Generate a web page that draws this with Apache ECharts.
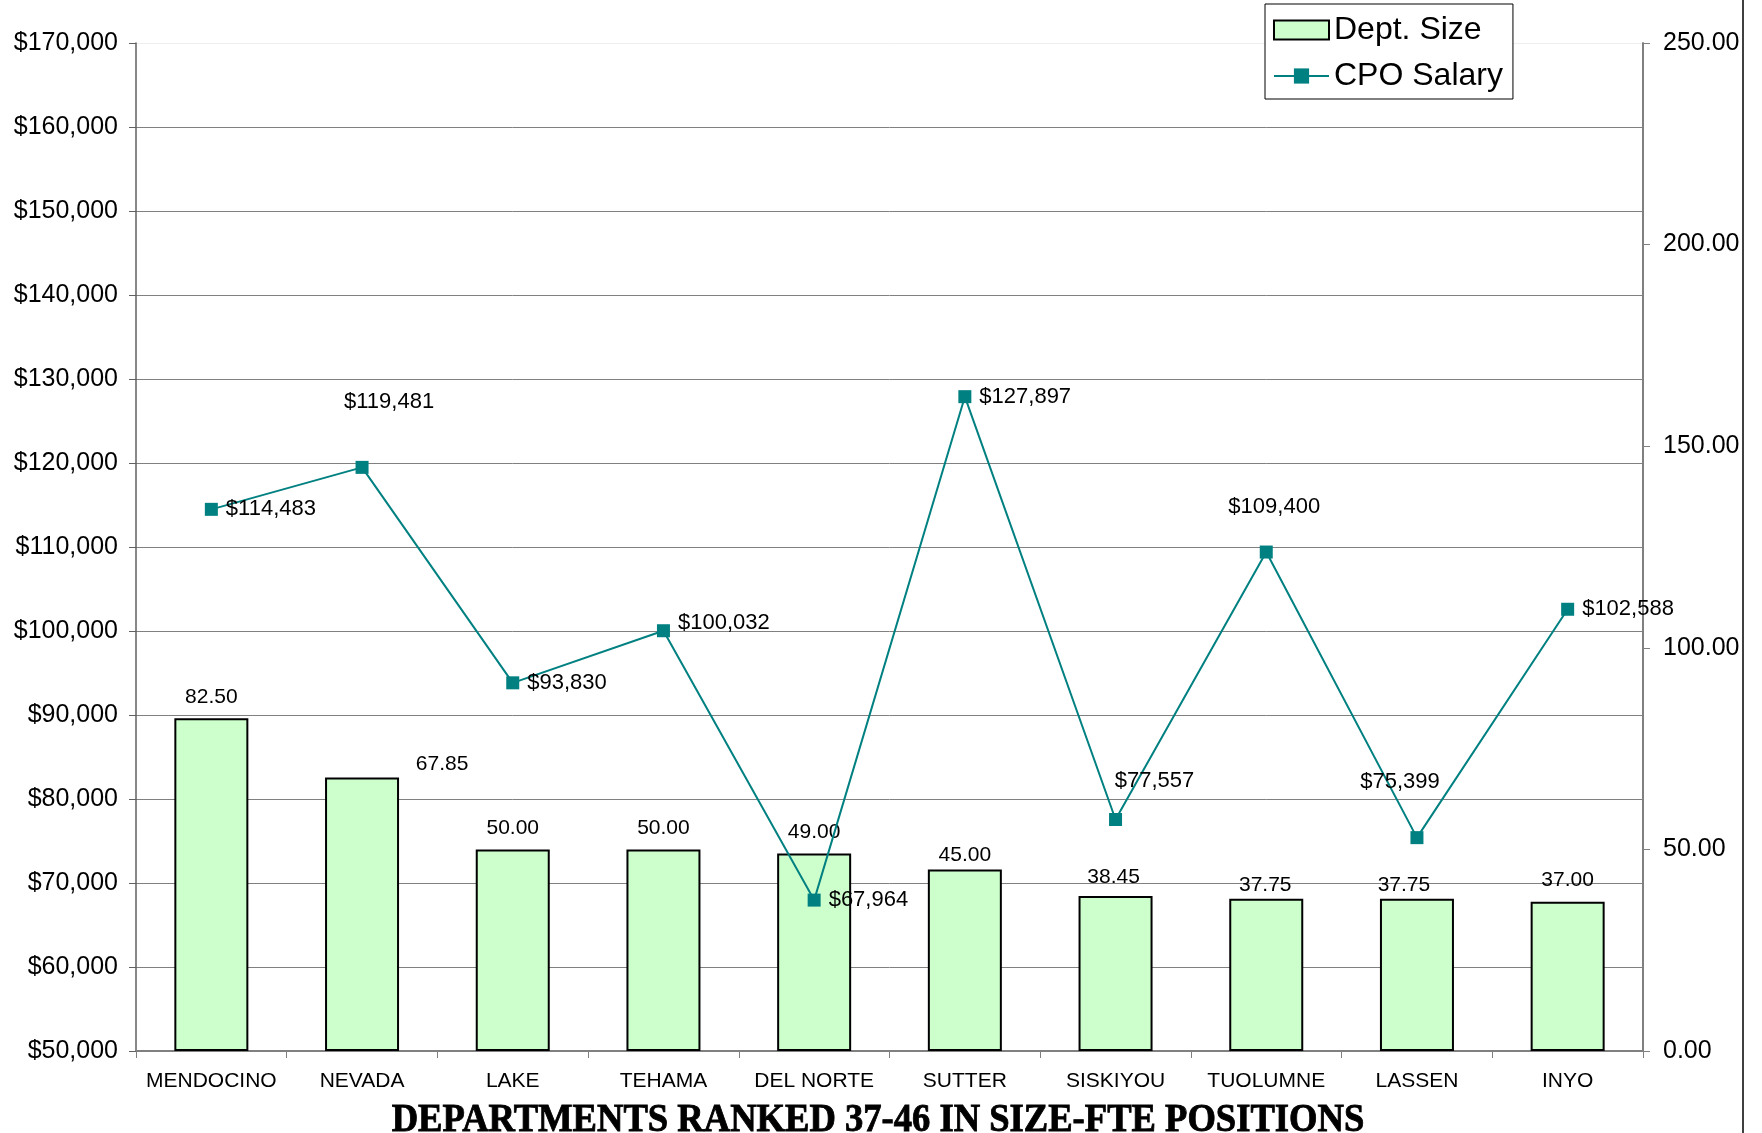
<!DOCTYPE html>
<html>
<head>
<meta charset="utf-8">
<title>CPO Salary and Department Size</title>
<script src="https://cdn.jsdelivr.net/npm/echarts@6/dist/echarts.min.js"></script>
<style>
  html, body { margin: 0; padding: 0; background: #ffffff; }
  #chart { width: 1762px; height: 1133px; }
</style>
</head>
<body>
<div id="chart"></div>
<script>
// Counties ranked 37-46 by department size
const categories = ['MENDOCINO', 'NEVADA', 'LAKE', 'TEHAMA', 'DEL NORTE', 'SUTTER', 'SISKIYOU', 'TUOLUMNE', 'LASSEN', 'INYO'];
// Department size, FTE positions (right axis)
const deptSize = [82.50, 67.85, 50.00, 50.00, 49.00, 45.00, 38.45, 37.75, 37.75, 37.00];
// Chief probation officer salary, dollars (left axis)
const cpoSalary = [114483, 119481, 93830, 100032, 67964, 127897, 77557, 109400, 75399, 102588];

// Axis scales
const salaryAxis = { min: 50000, max: 170000, interval: 10000 };
const sizeAxis = { min: 0, max: 250, interval: 50 };

// Hand-placed label nudges, by category index
const salaryLabelLayout = [
  { position: 'right', offset: [0, 0] },
  { position: 'top', offset: [27, -40] },
  { position: 'right', offset: [0, 0] },
  { position: 'right', offset: [0, -8] },
  { position: 'right', offset: [0, 0] },
  { position: 'right', offset: [0, 0] },
  { position: 'top', offset: [39, -13] },
  { position: 'top', offset: [8, -20] },
  { position: 'top', offset: [-17, -30] },
  { position: 'right', offset: [0, 0] }
];
const sizeLabelOffset = [[0, 0], [80, 8], [0, 0], [0, 0], [0, 0], [0, 7], [-2, 3], [-1, 8], [-13, 8], [0, 0]];

const FONT = '"Liberation Sans", Arial, sans-serif';

function money(v) {
  return '$' + v.toLocaleString('en-US');
}

const gridColors = [];
for (let v = salaryAxis.min; v <= salaryAxis.max; v += salaryAxis.interval) {
  gridColors.push(v === salaryAxis.max ? '#eeeeee' : '#808080');
}

const chart = echarts.init(document.getElementById('chart'), null, { renderer: 'canvas' });

const option = {
  backgroundColor: '#ffffff',
  animation: false,
  textStyle: { fontFamily: FONT, color: '#000000' },
  legend: {
    orient: 'vertical',
    left: 1265,
    top: 4,
    padding: [10, 10, 7, 8],
    itemGap: 14,
    itemWidth: 55,
    itemHeight: 19,
    backgroundColor: '#ffffff',
    borderColor: '#000000',
    borderWidth: 1,
    borderRadius: 0,
    textStyle: { fontFamily: FONT, fontSize: 32, color: '#000000', padding: [0, 0, 0, 0] },
    data: [
      { name: 'Dept. Size', icon: 'rect' },
      { name: 'CPO Salary' }
    ]
  },
  graphic: [
    {
      type: 'line',
      shape: { x1: 1743, y1: 0, x2: 1743, y2: 1133 },
      style: { stroke: '#000000', lineWidth: 1.5 }
    },
    {
      // x-axis caption in heavy serif
      type: 'text',
      x: 878,
      y: 1120,
      scaleY: 1.12,
      style: {
        text: 'DEPARTMENTS RANKED 37-46 IN SIZE-FTE POSITIONS',
        font: 'bold 36.6px "Liberation Serif", "Times New Roman", serif',
        fill: '#000000',
        stroke: '#000000',
        lineWidth: 0.8,
        align: 'center',
        verticalAlign: 'middle'
      }
    }
  ],
  grid: { left: 136, right: 119, top: 43, bottom: 82, containLabel: false },
  xAxis: {
    type: 'category',
    data: categories,
    boundaryGap: true,
    axisLine: { show: true, lineStyle: { color: '#808080', width: 2 } },
    axisTick: { show: true, length: 7, alignWithLabel: false, lineStyle: { color: '#808080', width: 1 } },
    axisLabel: { fontFamily: FONT, fontSize: 21, color: '#000000', margin: 20, interval: 0 },
    splitLine: { show: false }
  },
  yAxis: [
    {
      type: 'value',
      position: 'left',
      min: salaryAxis.min,
      max: salaryAxis.max,
      interval: salaryAxis.interval,
      axisLine: { show: true, lineStyle: { color: '#606060', width: 1.5 } },
      axisTick: { show: true, length: 7, lineStyle: { color: '#606060', width: 1 } },
      axisLabel: {
        fontFamily: FONT, fontSize: 25, color: '#000000', margin: 18,
        formatter: v => money(v)
      },
      splitLine: { show: true, lineStyle: { color: gridColors, width: 1 } }
    },
    {
      type: 'value',
      position: 'right',
      min: sizeAxis.min,
      max: sizeAxis.max,
      interval: sizeAxis.interval,
      axisLine: { show: true, lineStyle: { color: '#808080', width: 2 } },
      axisTick: { show: true, length: 7, lineStyle: { color: '#808080', width: 1 } },
      axisLabel: {
        fontFamily: FONT, fontSize: 25, color: '#000000', margin: 20,
        formatter: v => v.toFixed(2)
      },
      splitLine: { show: false }
    }
  ],
  series: [
    {
      name: 'Dept. Size',
      type: 'bar',
      yAxisIndex: 1,
      barWidth: 74,
      z: 2,
      itemStyle: { color: '#CCFFCC', borderColor: '#000000', borderWidth: 2 },
      label: {
        show: true,
        position: 'top',
        distance: 11,
        fontFamily: FONT,
        fontSize: 21,
        color: '#000000',
        formatter: p => p.value.toFixed(2)
      },
      data: deptSize.map((v, i) => ({
        value: v,
        label: { offset: sizeLabelOffset[i] }
      }))
    },
    {
      name: 'CPO Salary',
      type: 'line',
      yAxisIndex: 0,
      z: 5,
      symbol: 'rect',
      symbolSize: 13,
      lineStyle: { color: '#008080', width: 2 },
      itemStyle: { color: '#008080' },
      label: {
        show: true,
        distance: 8,
        fontFamily: FONT,
        fontSize: 22,
        color: '#000000',
        formatter: p => money(p.value)
      },
      data: cpoSalary.map((v, i) => ({
        value: v,
        label: { position: salaryLabelLayout[i].position, offset: salaryLabelLayout[i].offset }
      }))
    }
  ]
};

chart.setOption(option);
</script>
</body>
</html>
